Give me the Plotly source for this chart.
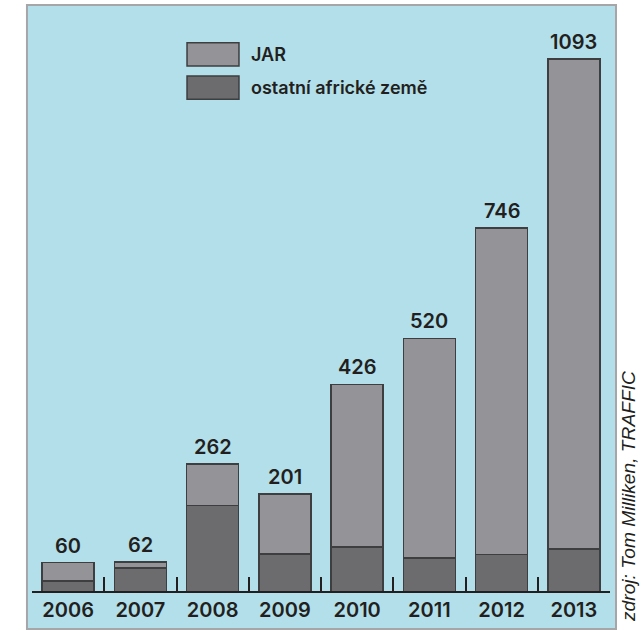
import plotly.graph_objects as go

years = ["2006", "2007", "2008", "2009", "2010", "2011", "2012", "2013"]
others = [23, 49, 177, 78, 92, 70, 77, 88]      # ostatní africké země
jar = [37, 13, 85, 123, 334, 450, 669, 1005]    # JAR
totals = [60, 62, 262, 201, 426, 520, 746, 1093]

TXT = "#231f20"
LIGHT = "#949498"
DARK = "#6c6c6e"
BG = "#b2dfea"
EDGE = "#3e3e40"

fig = go.Figure()
fig.add_trace(go.Bar(x=years, y=others, name="ostatní africké země",
                     marker=dict(color=DARK, line=dict(color=EDGE, width=1.5))))
fig.add_trace(go.Bar(x=years, y=jar, name="JAR",
                     marker=dict(color=LIGHT, line=dict(color=EDGE, width=1.5))))

for i, t in enumerate(totals):
    fig.add_annotation(xref="x", yref="y", x=i, y=t, text=str(t), showarrow=False,
                       yanchor="middle", yshift=17,
                       font=dict(family="Inter", size=20, color=TXT, weight=600))

# panel background and border
fig.add_shape(type="rect", xref="paper", yref="paper", x0=-0.0087, x1=1.0104, y0=0, y1=1,
              fillcolor=BG, line=dict(color="#a6a6a8", width=2), layer="below")

# legend
leg = [("JAR", LIGHT, 0.9395, 0.9022), ("ostatní africké země", DARK, 0.8862, 0.8489)]
for label, col, ytop, ybot in leg:
    fig.add_shape(type="rect", xref="paper", yref="paper", x0=0.2682, x1=0.3581,
                  y0=ybot, y1=ytop, fillcolor=col, line=dict(color=EDGE, width=1.5))
    fig.add_annotation(xref="paper", yref="paper", x=0.3754, y=(ytop + ybot) / 2,
                       text=label, showarrow=False, xanchor="left", yanchor="middle",
                       font=dict(family="Inter", size=18, color=TXT, weight=600))

# source
fig.add_annotation(xref="paper", yref="paper", x=(628 - 32) / 578, y=(629 - 497) / 624,
                   text="zdroj: Tom Milliken, TRAFFIC", showarrow=False, textangle=-90,
                   xanchor="center", yanchor="middle",
                   font=dict(family="Liberation Sans", size=19.2, color=TXT, style="italic"))

fig.update_layout(
    width=642, height=631,
    margin=dict(l=32, r=32, t=5, b=2),
    barmode="stack", bargap=0.28,
    showlegend=False,
    paper_bgcolor="white", plot_bgcolor="rgba(0,0,0,0)",
    xaxis=dict(type="category", anchor="free", position=0.0593, range=[-0.5, 7.5],
               tickson="boundaries",
               ticks="inside", ticklen=14, tickwidth=1.8, tickcolor=TXT,
               showline=True, linecolor=TXT, linewidth=2, showgrid=False,
               tickfont=dict(family="Inter", size=20, color=TXT, weight=600)),
    yaxis=dict(range=[-75.9, 1203.7], visible=False),
)

fig.write_html("out.html", config={"displayModeBar": False},
               post_script="document.body.style.margin='0';")
